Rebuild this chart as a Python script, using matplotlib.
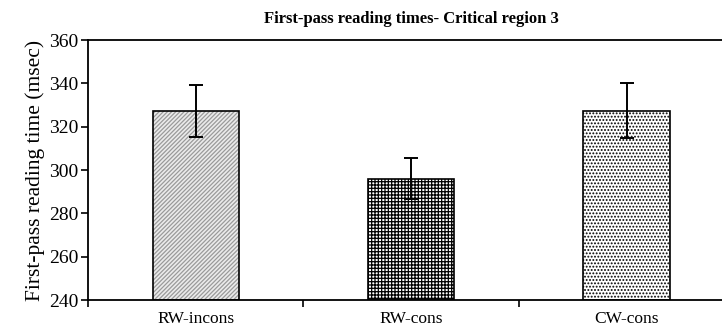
import matplotlib
matplotlib.use("Agg")
import matplotlib.pyplot as plt
import numpy as np

conditions = ["RW-incons", "RW-cons", "CW-cons"]
reading_times = [327.5, 296, 327.5]
std_errors = [12, 9.5, 12.5]
y_ticks = [240, 260, 280, 300, 320, 340, 360]

plt.rcParams['font.family'] = ['Liberation Serif', 'DejaVu Serif']
plt.rcParams['hatch.linewidth'] = 0.9

fig = plt.figure(figsize=(7.22, 3.29), dpi=100)
ax = fig.add_axes([0.1219, 0.088, 0.8951, 0.79])

x = np.arange(len(conditions))
styles = [
    {'facecolor': '#ebebeb', 'hatch': '////////', 'hatch_color': '#9a9a9a'},
    {'facecolor': 'white', 'hatch': '+++++', 'hatch_color': 'black'},
    {'facecolor': 'white', 'hatch': '.....', 'hatch_color': 'black'},
]
for i, st in enumerate(styles):
    ax.bar(x[i], reading_times[i] - 240, bottom=240, width=0.4,
           facecolor=st['facecolor'], edgecolor=st['hatch_color'],
           hatch=st['hatch'], linewidth=0, zorder=2)
    ax.bar(x[i], reading_times[i] - 240, bottom=240, width=0.4,
           facecolor='none', edgecolor='black', linewidth=1.2, zorder=3)

ax.errorbar(x, reading_times, yerr=std_errors, fmt='none', ecolor='black',
            elinewidth=1.4, capsize=5, capthick=1.4, zorder=4)

ax.set_xlim(-0.5, 2.5)
ax.set_ylim(240, 360)
ax.set_yticks(y_ticks)
ax.set_xticks([-0.5, 0.5, 1.5, 2.5])
ax.set_xticklabels([])
ax.set_xticks(x, minor=True)
ax.set_xticklabels(conditions, minor=True, fontsize=12.5)
ax.tick_params(axis='x', which='minor', length=0, pad=8)
ax.tick_params(axis='x', which='major', length=5, width=1.2, direction='out')
ax.tick_params(axis='y', length=5, width=1.2, direction='out', labelsize=14, pad=2)

for s in ax.spines.values():
    s.set_linewidth(1.3)

ax.set_ylabel("First-pass reading time (msec)", fontsize=15.5, labelpad=3)
ax.set_title("First-pass reading times- Critical region 3", fontsize=12,
             fontweight='bold', pad=12)

fig.savefig("out.png", dpi=100)
